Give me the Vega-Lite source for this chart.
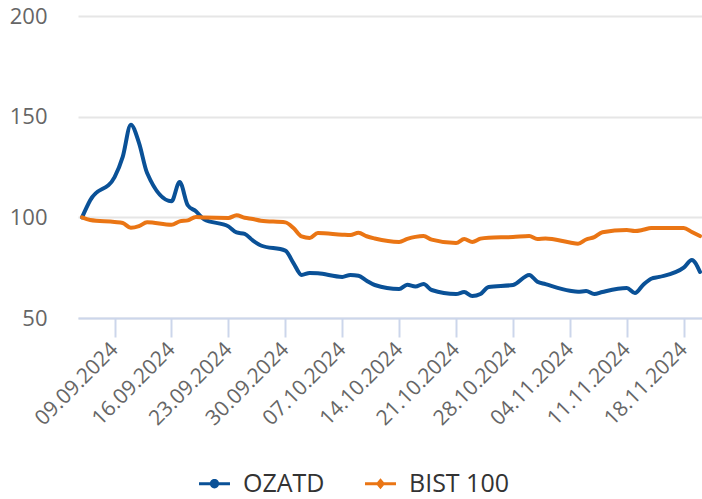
{
  "$schema": "https://vega.github.io/schema/vega-lite/v6.json",
  "width": 624,
  "height": 302,
  "autosize": {"type": "none"},
  "padding": {"left": 78, "top": 16, "right": 0, "bottom": 181},
  "background": "white",
  "config": {
    "view": {"stroke": null},
    "font": "Open Sans",
    "legend": {
      "orient": "none",
      "legendX": 124,
      "legendY": 455,
      "direction": "horizontal",
      "padding": 0,
      "labelFont": "Open Sans",
      "labelFontSize": 25,
      "labelColor": "#333333",
      "symbolSize": 240,
      "symbolStrokeWidth": 0,
      "symbolOpacity": 1,
      "labelOffset": 16,
      "columnPadding": 40
    }
  },
  "data": {
    "values": [
      {"date": "2024-09-05", "series": "OZATD", "value": 100},
      {"date": "2024-09-06", "series": "OZATD", "value": 108.5},
      {"date": "2024-09-09", "series": "OZATD", "value": 120},
      {"date": "2024-09-10", "series": "OZATD", "value": 130},
      {"date": "2024-09-11", "series": "OZATD", "value": 146},
      {"date": "2024-09-12", "series": "OZATD", "value": 137},
      {"date": "2024-09-13", "series": "OZATD", "value": 122},
      {"date": "2024-09-16", "series": "OZATD", "value": 108},
      {"date": "2024-09-17", "series": "OZATD", "value": 117.6},
      {"date": "2024-09-18", "series": "OZATD", "value": 106},
      {"date": "2024-09-19", "series": "OZATD", "value": 103},
      {"date": "2024-09-20", "series": "OZATD", "value": 99},
      {"date": "2024-09-23", "series": "OZATD", "value": 95.5},
      {"date": "2024-09-24", "series": "OZATD", "value": 92.5},
      {"date": "2024-09-25", "series": "OZATD", "value": 91.8},
      {"date": "2024-09-26", "series": "OZATD", "value": 88.5},
      {"date": "2024-09-27", "series": "OZATD", "value": 86},
      {"date": "2024-09-30", "series": "OZATD", "value": 83.5},
      {"date": "2024-10-01", "series": "OZATD", "value": 77.3},
      {"date": "2024-10-02", "series": "OZATD", "value": 71.4},
      {"date": "2024-10-03", "series": "OZATD", "value": 72.4},
      {"date": "2024-10-04", "series": "OZATD", "value": 72.2},
      {"date": "2024-10-07", "series": "OZATD", "value": 70.4},
      {"date": "2024-10-08", "series": "OZATD", "value": 71.4},
      {"date": "2024-10-09", "series": "OZATD", "value": 71},
      {"date": "2024-10-10", "series": "OZATD", "value": 68.5},
      {"date": "2024-10-11", "series": "OZATD", "value": 66.4},
      {"date": "2024-10-14", "series": "OZATD", "value": 64.4},
      {"date": "2024-10-15", "series": "OZATD", "value": 66.5},
      {"date": "2024-10-16", "series": "OZATD", "value": 65.6},
      {"date": "2024-10-17", "series": "OZATD", "value": 66.9},
      {"date": "2024-10-18", "series": "OZATD", "value": 63.9},
      {"date": "2024-10-21", "series": "OZATD", "value": 61.9},
      {"date": "2024-10-22", "series": "OZATD", "value": 62.9},
      {"date": "2024-10-23", "series": "OZATD", "value": 60.9},
      {"date": "2024-10-24", "series": "OZATD", "value": 61.9},
      {"date": "2024-10-25", "series": "OZATD", "value": 65.4},
      {"date": "2024-10-28", "series": "OZATD", "value": 66.4},
      {"date": "2024-10-30", "series": "OZATD", "value": 71.4},
      {"date": "2024-10-31", "series": "OZATD", "value": 68},
      {"date": "2024-11-01", "series": "OZATD", "value": 66.8},
      {"date": "2024-11-04", "series": "OZATD", "value": 63.5},
      {"date": "2024-11-05", "series": "OZATD", "value": 63},
      {"date": "2024-11-06", "series": "OZATD", "value": 63.4},
      {"date": "2024-11-07", "series": "OZATD", "value": 61.9},
      {"date": "2024-11-08", "series": "OZATD", "value": 62.9},
      {"date": "2024-11-11", "series": "OZATD", "value": 64.9},
      {"date": "2024-11-12", "series": "OZATD", "value": 62.4},
      {"date": "2024-11-13", "series": "OZATD", "value": 66.4},
      {"date": "2024-11-14", "series": "OZATD", "value": 69.5},
      {"date": "2024-11-15", "series": "OZATD", "value": 70.4},
      {"date": "2024-11-18", "series": "OZATD", "value": 75},
      {"date": "2024-11-19", "series": "OZATD", "value": 78.8},
      {"date": "2024-11-20", "series": "OZATD", "value": 72.9},
      {"date": "2024-09-05", "series": "BIST 100", "value": 100},
      {"date": "2024-09-06", "series": "BIST 100", "value": 98.7},
      {"date": "2024-09-09", "series": "BIST 100", "value": 97.7},
      {"date": "2024-09-10", "series": "BIST 100", "value": 97.2},
      {"date": "2024-09-11", "series": "BIST 100", "value": 94.8},
      {"date": "2024-09-12", "series": "BIST 100", "value": 95.6},
      {"date": "2024-09-13", "series": "BIST 100", "value": 97.5},
      {"date": "2024-09-16", "series": "BIST 100", "value": 96.3},
      {"date": "2024-09-17", "series": "BIST 100", "value": 98},
      {"date": "2024-09-18", "series": "BIST 100", "value": 98.5},
      {"date": "2024-09-19", "series": "BIST 100", "value": 100.2},
      {"date": "2024-09-20", "series": "BIST 100", "value": 99.9},
      {"date": "2024-09-23", "series": "BIST 100", "value": 99.7},
      {"date": "2024-09-24", "series": "BIST 100", "value": 101},
      {"date": "2024-09-25", "series": "BIST 100", "value": 99.8},
      {"date": "2024-09-26", "series": "BIST 100", "value": 99.2},
      {"date": "2024-09-27", "series": "BIST 100", "value": 98.3},
      {"date": "2024-09-30", "series": "BIST 100", "value": 97.5},
      {"date": "2024-10-01", "series": "BIST 100", "value": 94.7},
      {"date": "2024-10-02", "series": "BIST 100", "value": 90.5},
      {"date": "2024-10-03", "series": "BIST 100", "value": 89.7},
      {"date": "2024-10-04", "series": "BIST 100", "value": 92.2},
      {"date": "2024-10-07", "series": "BIST 100", "value": 91.4},
      {"date": "2024-10-08", "series": "BIST 100", "value": 91.2},
      {"date": "2024-10-09", "series": "BIST 100", "value": 92.3},
      {"date": "2024-10-10", "series": "BIST 100", "value": 90.6},
      {"date": "2024-10-11", "series": "BIST 100", "value": 89.5},
      {"date": "2024-10-14", "series": "BIST 100", "value": 87.8},
      {"date": "2024-10-15", "series": "BIST 100", "value": 89.3},
      {"date": "2024-10-16", "series": "BIST 100", "value": 90.3},
      {"date": "2024-10-17", "series": "BIST 100", "value": 90.7},
      {"date": "2024-10-18", "series": "BIST 100", "value": 88.9},
      {"date": "2024-10-21", "series": "BIST 100", "value": 87.2},
      {"date": "2024-10-22", "series": "BIST 100", "value": 89.2},
      {"date": "2024-10-23", "series": "BIST 100", "value": 87.8},
      {"date": "2024-10-24", "series": "BIST 100", "value": 89.4},
      {"date": "2024-10-25", "series": "BIST 100", "value": 89.9},
      {"date": "2024-10-28", "series": "BIST 100", "value": 90.2},
      {"date": "2024-10-30", "series": "BIST 100", "value": 90.7},
      {"date": "2024-10-31", "series": "BIST 100", "value": 89.3},
      {"date": "2024-11-01", "series": "BIST 100", "value": 89.5},
      {"date": "2024-11-04", "series": "BIST 100", "value": 87.5},
      {"date": "2024-11-05", "series": "BIST 100", "value": 86.9},
      {"date": "2024-11-06", "series": "BIST 100", "value": 89},
      {"date": "2024-11-07", "series": "BIST 100", "value": 90.2},
      {"date": "2024-11-08", "series": "BIST 100", "value": 92.6},
      {"date": "2024-11-11", "series": "BIST 100", "value": 93.7},
      {"date": "2024-11-12", "series": "BIST 100", "value": 93.2},
      {"date": "2024-11-13", "series": "BIST 100", "value": 93.8},
      {"date": "2024-11-14", "series": "BIST 100", "value": 94.7},
      {"date": "2024-11-15", "series": "BIST 100", "value": 94.7},
      {"date": "2024-11-18", "series": "BIST 100", "value": 94.7},
      {"date": "2024-11-19", "series": "BIST 100", "value": 92.7},
      {"date": "2024-11-20", "series": "BIST 100", "value": 90.7}
    ]
  },
  "encoding": {
    "x": {
      "field": "date",
      "type": "temporal",
      "scale": {
        "type": "utc",
        "domain": [
          {"year": 2024, "month": 9, "date": 4, "hours": 12, "utc": true},
          {"year": 2024, "month": 11, "date": 20, "hours": 6, "utc": true}
        ]
      },
      "axis": {
        "title": null,
        "grid": false,
        "labelExpr": "utcFormat(datum.value, '%d.%m.%Y')",
        "values": [
          {"year": 2024, "month": 9, "date": 9, "utc": true},
          {"year": 2024, "month": 9, "date": 16, "utc": true},
          {"year": 2024, "month": 9, "date": 23, "utc": true},
          {"year": 2024, "month": 9, "date": 30, "utc": true},
          {"year": 2024, "month": 10, "date": 7, "utc": true},
          {"year": 2024, "month": 10, "date": 14, "utc": true},
          {"year": 2024, "month": 10, "date": 21, "utc": true},
          {"year": 2024, "month": 10, "date": 28, "utc": true},
          {"year": 2024, "month": 11, "date": 4, "utc": true},
          {"year": 2024, "month": 11, "date": 11, "utc": true},
          {"year": 2024, "month": 11, "date": 18, "utc": true}
        ],
        "domainColor": "#ccd6eb",
        "domainWidth": 2,
        "tickColor": "#ccd6eb",
        "tickWidth": 2,
        "tickSize": 19,
        "labelAngle": -45,
        "labelAlign": "right",
        "labelBaseline": "middle",
        "labelPadding": 9,
        "labelFont": "Open Sans",
        "labelFontSize": 21,
        "labelColor": "#666666",
        "labelOverlap": false
      }
    },
    "y": {
      "field": "value",
      "type": "quantitative",
      "scale": {"domain": [50, 200], "nice": false, "zero": false},
      "axis": {
        "title": null,
        "values": [50, 100, 150, 200],
        "domain": false,
        "ticks": false,
        "gridColor": "#e6e6e6",
        "gridWidth": 2,
        "labelPadding": 31,
        "labelFont": "Open Sans",
        "labelFontSize": 22,
        "labelColor": "#666666"
      }
    },
    "color": {
      "field": "series",
      "type": "nominal",
      "scale": {"domain": ["OZATD", "BIST 100"], "range": ["#0a5197", "#ea7514"]},
      "legend": {"title": null}
    }
  },
  "layer": [
    {
      "transform": [{"filter": "false"}],
      "mark": {"type": "point", "filled": true},
      "encoding": {
        "shape": {
          "field": "series",
          "type": "nominal",
          "scale": {
            "domain": ["OZATD", "BIST 100"],
            "range": [
              "M-2,-0.2 L2,-0.2 L2,0.2 L-2,0.2 Z M-0.6,0 A0.6,0.6 0 1,1 0.6,0 A0.6,0.6 0 1,1 -0.6,0 Z",
              "M-2,-0.2 L2,-0.2 L2,0.2 L-2,0.2 Z M0,-0.7 L0.6,0 L0,0.7 L-0.6,0 Z"
            ]
          },
          "legend": {"title": null}
        }
      }
    },
    {
      "transform": [{"filter": "datum.series === 'OZATD'"}],
      "mark": {"type": "line", "interpolate": "monotone", "strokeWidth": 4, "strokeJoin": "round", "strokeCap": "round"}
    },
    {
      "transform": [{"filter": "datum.series === 'BIST 100'"}],
      "mark": {"type": "line", "interpolate": "monotone", "strokeWidth": 4, "strokeJoin": "round", "strokeCap": "round"}
    }
  ]
}
